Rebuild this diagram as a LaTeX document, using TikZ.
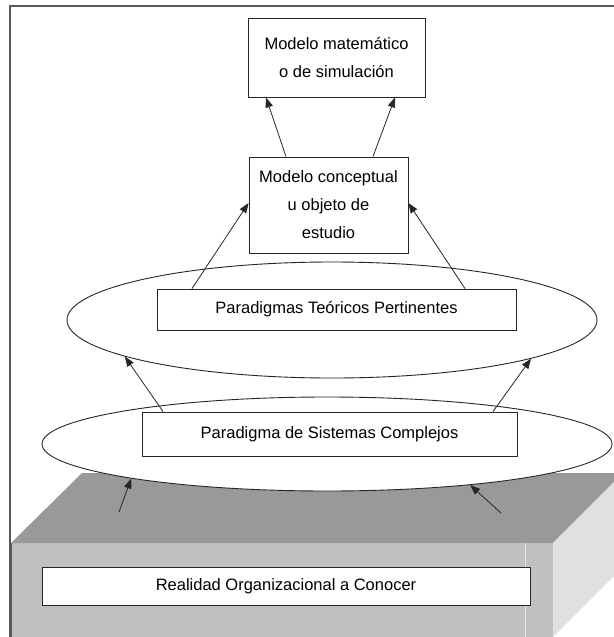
\documentclass[tikz,border=0pt]{standalone}
\usepackage{fontspec}
\setmainfont{Liberation Sans}
\usepackage{xcolor}
\definecolor{ctapa}{rgb}{0.6,0.6,0.6}
\definecolor{cfrente}{rgb}{0.753,0.753,0.753}
\definecolor{clado}{rgb}{0.878,0.878,0.878}
\definecolor{clinea}{rgb}{0.15,0.15,0.15}
\definecolor{cmarco}{rgb}{0.35,0.35,0.35}
\usepackage{tikz}
\usetikzlibrary{arrows.meta, shapes.geometric, positioning}
\tikzset{
Caja/.style={
	draw=clinea, fill=white,
	line width=0.9pt,
	align=center,
	inner sep=0pt,
	font=\fontsize{16.5}{28}\selectfont
},
Elipse/.style={
	draw=clinea, fill=white,
	ellipse,
	line width=0.9pt,
	inner sep=0pt
},
Flecha/.style={
	draw=clinea,
	line width=0.8pt,
	-{Triangle[length=10pt,width=7.5pt]}
},
Marco/.style={
	draw=cmarco,
	line width=1.2pt
}
}

\begin{document}
\begin{tikzpicture}[x=1pt, y=-1pt]
	\useasboundingbox (0,0) rectangle (613,637);

	% marco
	\coordinate (m1) at (10,645);
	\coordinate (m2) at (10,6);
	\coordinate (m3) at (625,6);
	\draw[Marco] (m1) -- (m2) -- (m3);

	% caja de la realidad
	\fill[cfrente] (11,543) rectangle (553,645);
	\draw[white!60!cfrente, line width=1pt] (525,543) -- (525,645);
	\fill[ctapa] (11,543) -- (82,473) -- (623,473) -- (553,543) -- cycle;
	\fill[clado] (553,543) -- (623,473) -- (623,567) -- (553,637) -- cycle;
	\draw[cmarco, line width=0.8pt] (11,543) -- (11,645);

	\node[Caja, minimum width=488pt, minimum height=38pt] (realidad) at (286,586) {Realidad Organizacional a Conocer};

	\node[Elipse, minimum width=570pt, minimum height=94pt] (elipseS) at (327,444) {};
	\node[Caja, minimum width=375pt, minimum height=44pt] (sistemas) at (329.5,434) {Paradigma de Sistemas Complejos};

	\node[Elipse, minimum width=530pt, minimum height=116pt] (elipseT) at (332,320) {};
	\node[Caja, minimum width=359pt, minimum height=41pt] (teoricos) at (336.5,309.5) {Paradigmas Te\'oricos Pertinentes};

	\node[Caja, minimum width=159pt, minimum height=96pt] (concep) at (328.5,205) {Modelo conceptual\\u objeto de\\estudio};
	\node[Caja, minimum width=177pt, minimum height=79pt] (mate) at (336.5,57.5) {Modelo matem\'atico\\o de simulaci\'on};

	\coordinate (ri) at (119,512);
	\coordinate (rd) at (501,513);

	\draw[Flecha] (ri) -- (elipseS.190.9);
	\draw[Flecha] (rd) -- (elipseS.344.7);
	\draw[Flecha] ([xshift=-166.5pt]sistemas.north) -- (elipseT.190.3);
	\draw[Flecha] ([xshift=163.5pt]sistemas.north) -- (elipseT.349.1);
	\draw[Flecha] ([xshift=-144.5pt]teoricos.north) -- ([yshift=2pt]concep.west);
	\draw[Flecha] ([xshift=128.5pt]teoricos.north) -- ([yshift=2pt]concep.east);
	\draw[Flecha] ([xshift=-42.5pt]concep.north) -- ([xshift=-70.5pt]mate.south);
	\draw[Flecha] ([xshift=44.5pt]concep.north) -- ([xshift=58.5pt]mate.south);
\end{tikzpicture}
\end{document}
